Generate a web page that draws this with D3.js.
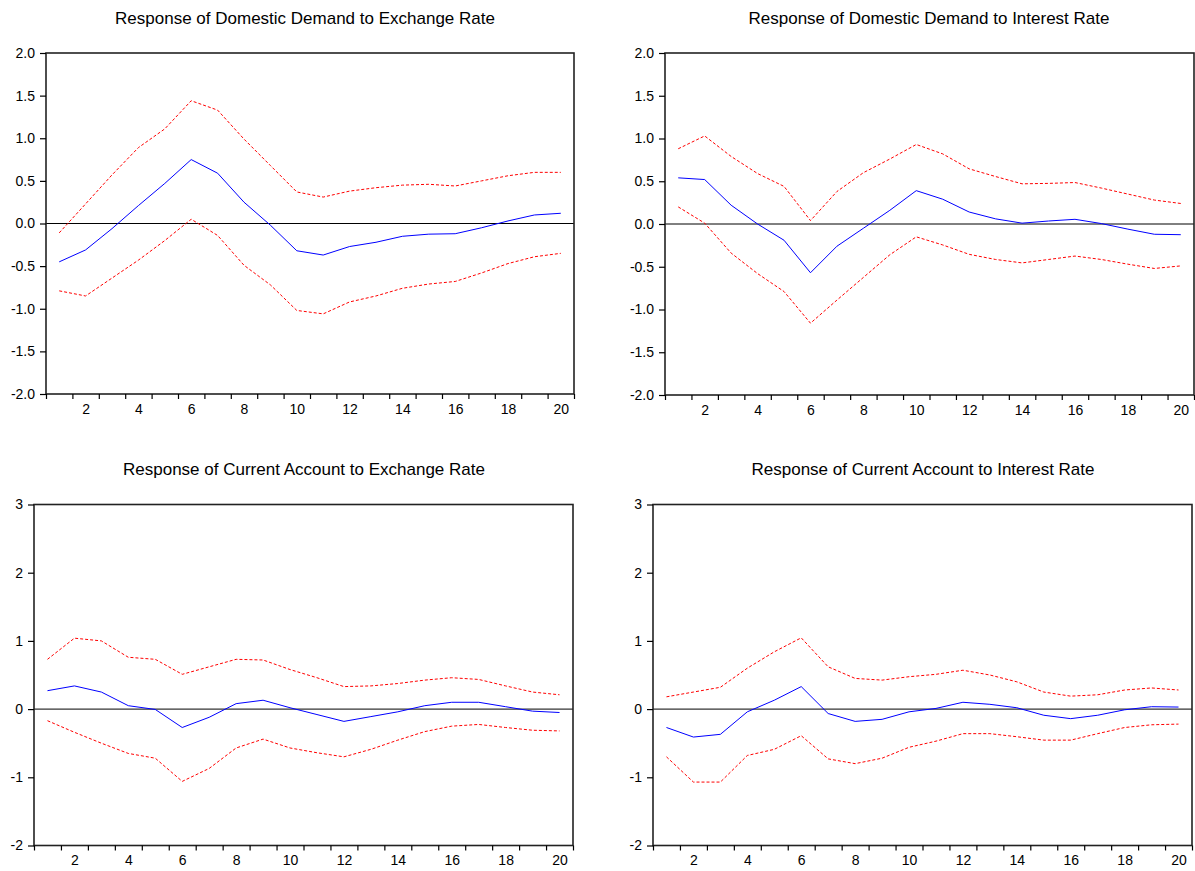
<!DOCTYPE html>
<html>
<head>
<meta charset="utf-8">
<script src="https://cdn.jsdelivr.net/npm/d3@7"></script>
<style>
  html, body { margin: 0; padding: 0; background: #fff; }
  svg { display: block; }
  text { font-family: "Liberation Sans", Arial, sans-serif; fill: #000; }
</style>
</head>
<body>
<svg id="chart" width="1195" height="871"></svg>
<script>
// ---------- data ----------
const periods = d3.range(1, 21);
const xTickLabels = [2, 4, 6, 8, 10, 12, 14, 16, 18, 20];
const yTicksTop = [-2.0, -1.5, -1.0, -0.5, 0.0, 0.5, 1.0, 1.5, 2.0];
const yTicksBottom = [-2, -1, 0, 1, 2, 3];

const titles = [
  "Response of Domestic Demand to Exchange Rate",
  "Response of Domestic Demand to Interest Rate",
  "Response of Current Account to Exchange Rate",
  "Response of Current Account to Interest Rate"
];

const ddExResp  = [-0.45,-0.31,-0.06,0.21,0.47,0.75,0.59,0.25,-0.02,-0.32,-0.37,-0.27,-0.22,-0.15,-0.125,-0.12,-0.05,0.03,0.10,0.12];
const ddExUpper = [-0.11,0.23,0.57,0.89,1.11,1.44,1.33,0.99,0.68,0.37,0.31,0.38,0.42,0.45,0.46,0.44,0.50,0.56,0.60,0.60];
const ddExLower = [-0.79,-0.85,-0.64,-0.43,-0.20,0.05,-0.14,-0.49,-0.72,-1.02,-1.06,-0.92,-0.85,-0.76,-0.71,-0.68,-0.58,-0.47,-0.39,-0.35];

const ddIrResp  = [0.54,0.52,0.22,0.00,-0.19,-0.57,-0.26,-0.05,0.16,0.39,0.29,0.14,0.06,0.01,0.035,0.055,0.005,-0.06,-0.12,-0.125];
const ddIrUpper = [0.88,1.03,0.79,0.59,0.44,0.04,0.38,0.60,0.76,0.93,0.82,0.645,0.555,0.47,0.475,0.485,0.42,0.35,0.28,0.24];
const ddIrLower = [0.20,0.01,-0.34,-0.58,-0.79,-1.16,-0.89,-0.625,-0.36,-0.15,-0.245,-0.355,-0.415,-0.455,-0.415,-0.375,-0.415,-0.47,-0.52,-0.49];

const caExResp  = [0.27,0.34,0.25,0.05,-0.005,-0.27,-0.12,0.08,0.13,0.02,-0.08,-0.18,-0.11,-0.04,0.05,0.10,0.10,0.035,-0.03,-0.05];
const caExUpper = [0.73,1.04,1.00,0.76,0.73,0.51,0.62,0.73,0.72,0.58,0.46,0.33,0.34,0.375,0.425,0.46,0.435,0.34,0.25,0.21];
const caExLower = [-0.17,-0.34,-0.50,-0.65,-0.72,-1.06,-0.87,-0.57,-0.44,-0.57,-0.64,-0.70,-0.59,-0.455,-0.33,-0.25,-0.225,-0.27,-0.31,-0.32];

const caIrResp  = [-0.27,-0.41,-0.37,-0.04,0.13,0.33,-0.065,-0.18,-0.15,-0.04,0.01,0.10,0.07,0.02,-0.09,-0.14,-0.09,-0.01,0.035,0.03];
const caIrUpper = [0.18,0.25,0.32,0.60,0.84,1.045,0.62,0.45,0.425,0.475,0.51,0.57,0.50,0.40,0.25,0.19,0.21,0.28,0.31,0.28];
const caIrLower = [-0.70,-1.07,-1.07,-0.68,-0.59,-0.39,-0.73,-0.80,-0.72,-0.56,-0.47,-0.36,-0.36,-0.405,-0.455,-0.455,-0.36,-0.27,-0.23,-0.22];

// ---------- layout ----------
const panels = [
  { title: titles[0], resp: ddExResp, upper: ddExUpper, lower: ddExLower, yDomain: [-2, 2], yTicks: yTicksTop, fmt: v => v.toFixed(1),
    left: 46, right: 574, top: 53, bottom: 394, titleY: 24, titleX: 305 },
  { title: titles[1], resp: ddIrResp, upper: ddIrUpper, lower: ddIrLower, yDomain: [-2, 2], yTicks: yTicksTop, fmt: v => v.toFixed(1),
    left: 665, right: 1194, top: 53, bottom: 395, titleY: 24, titleX: 929 },
  { title: titles[2], resp: caExResp, upper: caExUpper, lower: caExLower, yDomain: [-2, 3], yTicks: yTicksBottom, fmt: v => String(v),
    left: 34, right: 573, top: 504.5, bottom: 845.5, titleY: 475, titleX: 304 },
  { title: titles[3], resp: caIrResp, upper: caIrUpper, lower: caIrLower, yDomain: [-2, 3], yTicks: yTicksBottom, fmt: v => String(v),
    left: 653, right: 1192, top: 504.5, bottom: 845.5, titleY: 475, titleX: 923 }
];

const svg = d3.select("#chart");

panels.forEach(p => {
  const g = svg.append("g");
  const x = d3.scaleLinear().domain([0.5, 20.5]).range([p.left, p.right]);
  const y = d3.scaleLinear().domain(p.yDomain).range([p.bottom, p.top]);

  // title
  g.append("text")
    .attr("x", p.titleX)
    .attr("y", p.titleY)
    .attr("text-anchor", "middle")
    .style("font-size", "17px")
    .text(p.title);

  // zero line
  g.append("line")
    .attr("x1", p.left).attr("x2", p.right)
    .attr("y1", y(0)).attr("y2", y(0))
    .attr("stroke", "#000").attr("stroke-width", 1);

  // lines
  const line = d3.line().x((d, i) => x(periods[i])).y(d => y(d));
  g.append("path").datum(p.upper).attr("d", line)
    .attr("fill", "none").attr("stroke", "#ff0000").attr("stroke-width", 1)
    .attr("stroke-dasharray", "3,2");
  g.append("path").datum(p.lower).attr("d", line)
    .attr("fill", "none").attr("stroke", "#ff0000").attr("stroke-width", 1)
    .attr("stroke-dasharray", "3,2");
  g.append("path").datum(p.resp).attr("d", line)
    .attr("fill", "none").attr("stroke", "#0000ff").attr("stroke-width", 1);

  // frame
  g.append("rect")
    .attr("x", p.left).attr("y", p.top)
    .attr("width", p.right - p.left).attr("height", p.bottom - p.top)
    .attr("fill", "none").attr("stroke", "#222").attr("stroke-width", 1.6);

  // x axis: boundary ticks
  const xAxisTicks = d3.axisBottom(x)
    .tickValues(d3.range(0.5, 21, 1))
    .tickFormat("")
    .tickSize(5)
    .tickSizeOuter(0);
  const gx = g.append("g").attr("transform", `translate(0,${p.bottom})`).call(xAxisTicks);
  gx.select(".domain").remove();
  gx.selectAll(".tick line").attr("stroke", "#000").attr("stroke-width", 1.2);

  // x axis labels
  const xAxisLabels = d3.axisBottom(x)
    .tickValues(xTickLabels)
    .tickFormat(d => String(d))
    .tickSize(0)
    .tickPadding(10);
  const gxl = g.append("g").attr("transform", `translate(0,${p.bottom})`).call(xAxisLabels);
  gxl.select(".domain").remove();
  gxl.selectAll("text").style("font-size", "14px").style("font-family", "'Liberation Sans', Arial, sans-serif");

  // y axis
  const yAxis = d3.axisLeft(y)
    .tickValues(p.yTicks)
    .tickFormat(p.fmt)
    .tickSize(6)
    .tickSizeOuter(0)
    .tickPadding(5);
  const gy = g.append("g").attr("transform", `translate(${p.left},0)`).call(yAxis);
  gy.select(".domain").remove();
  gy.selectAll(".tick line").attr("stroke", "#000").attr("stroke-width", 1.2);
  gy.selectAll("text").style("font-size", "14px").style("font-family", "'Liberation Sans', Arial, sans-serif");
});
</script>
</body>
</html>
